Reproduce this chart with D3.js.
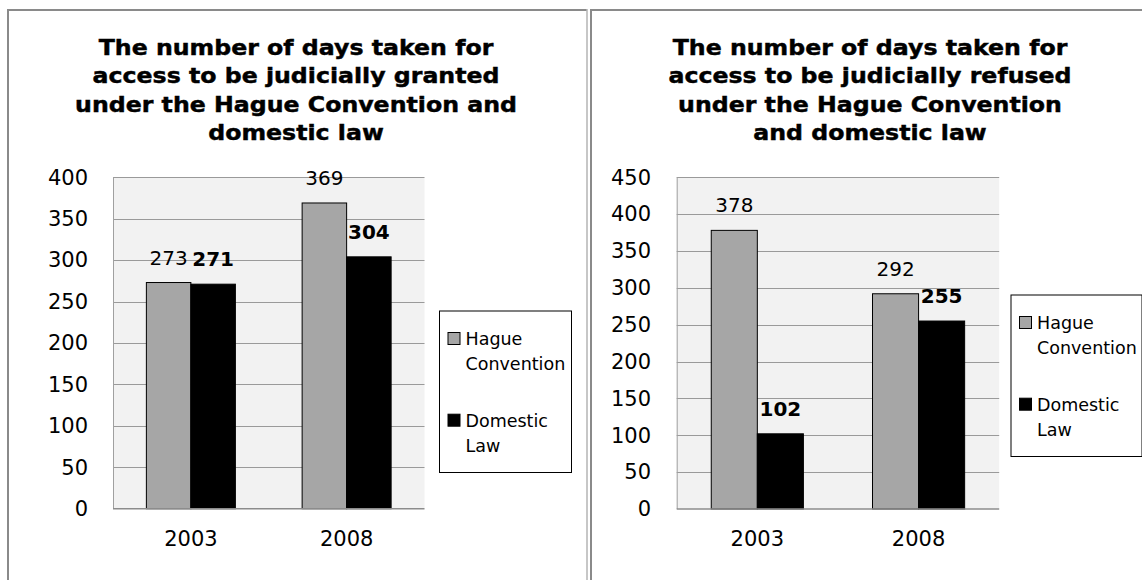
<!DOCTYPE html>
<html>
<head>
<meta charset="utf-8">
<script src="https://cdn.jsdelivr.net/npm/d3@7"></script>
<style>
  html, body { margin: 0; padding: 0; background: #ffffff; }
  svg { display: block; }
  .legend-text { font-family: "DejaVu Sans", sans-serif; font-size: 17.5px; fill: #000; }
  .value-label { font-family: "DejaVu Sans", sans-serif; font-size: 20px; fill: #000; }
  .value-label.bold { font-weight: bold; }
  .title { font-family: "DejaVu Sans", sans-serif; font-weight: bold; font-size: 21.5px; fill: #000;
           stroke: #000; stroke-width: 0.45px; }
</style>
</head>
<body>
<svg id="chart" width="1142" height="580"></svg>
<script>
// Shared categories and series
const years = ["2003", "2008"];
const seriesNames = ["Hague Convention", "Domestic Law"];

// Days taken for access to be judicially granted
const grantedHague = [273, 369];
const grantedDomestic = [271, 304];
const grantedTicks = [0, 50, 100, 150, 200, 250, 300, 350, 400];
const grantedTitle = ["The number of days taken for", "access to be judicially granted",
                      "under the Hague Convention and", "domestic law"];

// Days taken for access to be judicially refused
const refusedHague = [378, 292];
const refusedDomestic = [102, 255];
const refusedTicks = [0, 50, 100, 150, 200, 250, 300, 350, 400, 450];
const refusedTitle = ["The number of days taken for", "access to be judicially refused",
                      "under the Hague Convention", "and domestic law"];

const legendLines = [["Hague", "Convention"], ["Domestic", "Law"]];
const seriesFill = ["#a6a6a6", "#000000"];

const svg = d3.select("#chart");

// panel frames
function frame(x0, x1, rightEdge) {
  svg.append("line").attr("x1", x0).attr("x2", x1).attr("y1", 10).attr("y2", 10)
    .attr("stroke", "#8a8a8a").attr("stroke-width", 2);
  svg.append("line").attr("x1", x0 + 1).attr("x2", x0 + 1).attr("y1", 9).attr("y2", 580)
    .attr("stroke", "#8a8a8a").attr("stroke-width", 2);
  if (rightEdge) {
    svg.append("line").attr("x1", x1).attr("x2", x1).attr("y1", 9).attr("y2", 580)
      .attr("stroke", "#b4b4b4").attr("stroke-width", 1.5);
  }
}
frame(7, 587, true);
frame(590, 1142, false);

function drawChart(cfg) {
  const g = svg.append("g");

  // title, slightly widened
  const t = g.append("text").attr("class", "title").attr("text-anchor", "middle")
    .attr("transform", `translate(${cfg.titleX},0) scale(1.1,1)`);
  cfg.title.forEach((line, i) => {
    t.append("tspan").attr("x", 0).attr("y", 55 + i * 28.5).text(line);
  });

  const y = d3.scaleLinear().domain([0, cfg.max]).range([cfg.y0, cfg.y1]);
  const x = d3.scaleBand().domain(years).range([cfg.x0, cfg.x1]);
  const xs = d3.scaleBand().domain(seriesNames).range([0, x.bandwidth()])
    .paddingInner(0).paddingOuter(0.75);

  // plot background
  g.append("rect").attr("x", cfg.x0).attr("y", cfg.y1)
    .attr("width", cfg.x1 - cfg.x0).attr("height", cfg.y0 - cfg.y1)
    .attr("fill", "#f2f2f2");

  // gridlines
  g.append("g").selectAll("line").data(cfg.ticks.slice(1)).join("line")
    .attr("x1", cfg.x0).attr("x2", cfg.x1)
    .attr("y1", d => Math.round(y(d)) + 0.5).attr("y2", d => Math.round(y(d)) + 0.5)
    .attr("stroke", "#9a9a9a").attr("stroke-width", 1);

  // vertical axis line
  g.append("line").attr("x1", cfg.x0 + 0.5).attr("x2", cfg.x0 + 0.5)
    .attr("y1", cfg.y1).attr("y2", cfg.y0).attr("stroke", "#a0a0a0").attr("stroke-width", 1);

  // y axis labels
  const yAxis = d3.axisLeft(y).tickValues(cfg.ticks).tickSize(0).tickPadding(0);
  const ya = g.append("g").attr("transform", `translate(${cfg.labelRight},0)`).call(yAxis);
  ya.select(".domain").remove();
  ya.selectAll("text").attr("fill", "#000")
    .style("font-family", "DejaVu Sans, sans-serif").style("font-size", "21px");

  // x axis labels
  const xAxis = d3.axisBottom(x).tickSize(0).tickPadding(0);
  const xa = g.append("g").attr("transform", `translate(0,${cfg.catY})`).call(xAxis);
  xa.select(".domain").remove();
  xa.selectAll("text").attr("fill", "#000").attr("dy", 0)
    .style("font-family", "DejaVu Sans, sans-serif").style("font-size", "21px");

  // bars
  const rows = [];
  years.forEach((yr, i) => {
    rows.push({ year: yr, s: 0, v: cfg.hague[i] });
    rows.push({ year: yr, s: 1, v: cfg.domestic[i] });
  });
  g.append("g").selectAll("rect").data(rows).join("rect")
    .attr("x", d => x(d.year) + xs(seriesNames[d.s]))
    .attr("y", d => y(d.v))
    .attr("width", xs.bandwidth())
    .attr("height", d => y(0) - y(d.v))
    .attr("fill", d => seriesFill[d.s])
    .attr("stroke", "#000").attr("stroke-width", 1);

  // baseline axis
  g.append("line").attr("x1", cfg.x0).attr("x2", cfg.x1)
    .attr("y1", cfg.y0).attr("y2", cfg.y0).attr("stroke", "#8c8c8c").attr("stroke-width", 1.5);

  // value labels
  g.append("g").selectAll("text").data(rows).join("text")
    .attr("class", d => d.s === 1 ? "value-label bold" : "value-label")
    .attr("text-anchor", "middle")
    .attr("x", d => x(d.year) + xs(seriesNames[d.s]) + xs.bandwidth() / 2)
    .attr("y", d => y(d.v) - 18)
    .text(d => d.v);

  // legend
  const lg = g.append("g").attr("transform", `translate(${cfg.legX},${cfg.legY})`);
  lg.append("rect").attr("x", 0).attr("y", 0).attr("width", cfg.legW).attr("height", 161.5)
    .attr("fill", "#fff").attr("stroke", "#000").attr("stroke-width", 1);
  legendLines.forEach((lines, i) => {
    const by = 34 + i * 81.7;
    lg.append("rect").attr("x", 8.5).attr("y", by - 12.5).attr("width", 12).attr("height", 12)
      .attr("fill", seriesFill[i]).attr("stroke", "#000").attr("stroke-width", 1);
    lines.forEach((ln, j) => {
      lg.append("text").attr("class", "legend-text").attr("x", 26).attr("y", by + j * 25).text(ln);
    });
  });
}

drawChart({
  title: grantedTitle, titleX: 296, max: 400, ticks: grantedTicks,
  hague: grantedHague, domestic: grantedDomestic,
  x0: 113, x1: 424.5, y0: 508.7, y1: 177.3, labelRight: 88, catY: 546,
  legX: 439.5, legY: 311, legW: 132
});

drawChart({
  title: refusedTitle, titleX: 870, max: 450, ticks: refusedTicks,
  hague: refusedHague, domestic: refusedDomestic,
  x0: 676.7, x1: 999.2, y0: 509, y1: 177.3, labelRight: 651, catY: 546,
  legX: 1011, legY: 295, legW: 131
});
</script>
</body>
</html>
